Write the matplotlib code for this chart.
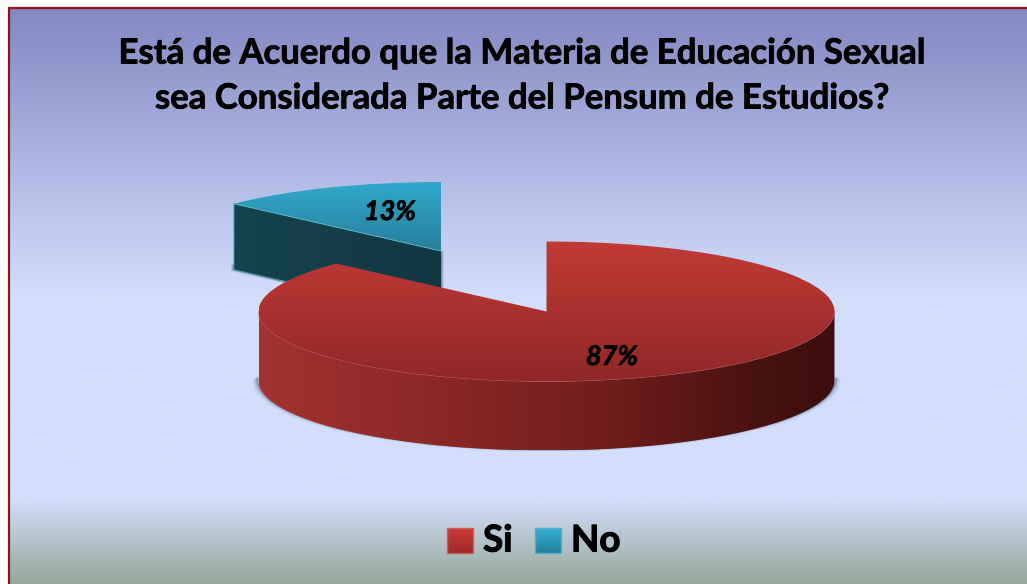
import matplotlib
matplotlib.use('Agg')
import matplotlib.pyplot as plt
import matplotlib.patheffects as pe
import numpy as np
from matplotlib.colors import LinearSegmentedColormap
from matplotlib.patches import PathPatch, Rectangle, Wedge
from matplotlib.path import Path
from matplotlib.transforms import Affine2D

plt.rcParams['font.family'] = ['Lato', 'DejaVu Sans']

title = 'Está de Acuerdo que la Materia de Educación Sexual\nsea Considerada Parte del Pensum de Estudios?'
categories = ['Si', 'No']
values = [87, 13]

W, H = 1027, 584


def gradient(ax, x0, x1, y0, y1, stops, clip=None, horizontal=False, z=1):
    # stops are (position 0-1, colour)
    cmap = LinearSegmentedColormap.from_list('g', stops)
    ramp = np.linspace(0, 1, 256)
    ramp = ramp[None, :] if horizontal else ramp[:, None]
    im = ax.imshow(ramp, cmap=cmap, vmin=0, vmax=1, extent=(x0, x1, y1, y0),
                   aspect='auto', zorder=z, interpolation='bilinear')
    if clip is not None:
        clip.set_facecolor('none')
        clip.set_edgecolor('none')
        ax.add_patch(clip)
        im.set_clip_path(clip)
    return im


def rim(cx, cy, rx, ry, deg):
    a = np.radians(deg)
    return cx + rx * np.cos(a), cy - ry * np.sin(a)


# makes the Lato bold a bit heavier, closer to the original
def heavy(w):
    return [pe.withStroke(linewidth=w, foreground='black')]


fig = plt.figure(figsize=(W / 100, H / 100), dpi=100, facecolor='white')
ax = fig.add_axes([0, 0, 1, 1])
ax.set_axis_off()

# background panel
gradient(ax, 8, W, 7, H, [(0, '#8388c2'), (0.5, '#d3defd'), (0.855, '#d3defd'), (1, '#95a899')], z=0)
ax.plot([8.5, 8.5, W], [H, 7.5, 7.5], color='#8f1418', lw=1.6, zorder=0.5, solid_joinstyle='miter')

# angles clockwise from 12 o'clock, taken from the values
shares = np.array(values) / sum(values) * 360
split = 90 - shares[0]   # math angle where Si ends / No starts
si_start, si_end = split, 90
no_start, no_end = 90, 90 + shares[1]

# ---- No slice (pulled out to the back left)
ncx, ncy, nrx, nry, nd = 441, 251, 284, 69, 66
lx, ly = rim(ncx, ncy, nrx, nry, no_end)

# soft shadow behind the blue block
for off, alpha in [(1, 0.28), (2, 0.18), (3, 0.10)]:
    ax.add_patch(plt.Polygon([(lx - off, ly + nd + off * 0.4), (lx - off, ly + nd - 6), (ncx + off, ncy),
                              (ncx + off, ncy + nd + 6), (ncx, ncy + nd + off)],
                             color='#30304a', alpha=alpha, lw=0, zorder=1))

side_no = plt.Polygon([(lx, ly), (ncx, ncy), (ncx, ncy + nd), (lx, ly + nd)], closed=True)
gradient(ax, lx, ncx, ly, ncy + nd, [(0, '#16434f'), (1, '#113743')], clip=side_no, horizontal=True, z=2)
ax.plot([lx, lx, ncx], [ly, ly + nd, ncy + nd], color='#3f9fb5', lw=0.7, zorder=2.1)

top_no = Wedge((0, 0), 1, no_start, no_end,
               transform=Affine2D().scale(nrx, -nry).translate(ncx, ncy) + ax.transData)
gradient(ax, lx, ncx, ncy - nry, ncy, [(0, '#30a9c9'), (1, '#287f9b')], clip=top_no, z=3)
ax.plot([lx, ncx], [ly, ncy], color='#58b6cd', lw=0.7, zorder=3.1)

# ---- Si slice
cx, cy, rx, ry, depth = 546.5, 311.5, 288, 70, 69
deg = np.linspace(180, 360, 200)
fx, fy = rim(cx, cy, rx, ry, deg)

for off, alpha in [(1, 0.30), (2, 0.20), (3.5, 0.10), (5, 0.05)]:
    ax.plot(fx + off * np.cos(np.radians(deg)), fy + depth + off * 0.35 - 2, color='#3a4560',
            alpha=alpha, lw=2, zorder=3.5)

verts = list(zip(fx, fy)) + list(zip(fx[::-1], fy[::-1] + depth))
side_si = PathPatch(Path(verts + [verts[0]]))
gradient(ax, cx - rx, cx + rx, cy, cy + ry + depth,
         [(0, '#a33230'), (0.3, '#8c2824'), (0.6, '#701e1a'), (0.85, '#4a1310'), (1, '#3a0f0c')],
         clip=side_si, horizontal=True, z=4)

top_si = Wedge((0, 0), 1, si_start, si_end,
               transform=Affine2D().scale(rx, -ry).translate(cx, cy) + ax.transData)
gradient(ax, cx - rx, cx + rx, cy - ry, cy + ry, [(0, '#c33a36'), (1, '#8f2827')], clip=top_si, z=5)
ax.plot(fx, fy, color='#b8403c', lw=0.6, alpha=0.6, zorder=5.1)

# ---- percent labels
for v, x, y in zip(values, [612, 390], [357, 212]):
    ax.text(x, y, f'{v}%', ha='center', va='center', fontsize=19.5, fontweight='bold',
            fontstyle='italic', color='black', zorder=6, path_effects=heavy(0.5))

ax.text(522.5, 76, title, ha='center', va='center', fontsize=25, fontweight='bold',
        color='black', linespacing=1.5, zorder=6, path_effects=heavy(0.6))

# ---- legend
legend_x = [447, 535]
legend_colors = [[(0, '#d03a38'), (1, '#9c2a2a')], [(0, '#33b0d2'), (1, '#26809f')]]
legend_edges = ['#c8605e', '#52b0cc']
text_x = [483, 571]
for name, x, cols, edge, tx in zip(categories, legend_x, legend_colors, legend_edges, text_x):
    gradient(ax, x, x + 26, 528, 553, cols, z=5)
    ax.add_patch(Rectangle((x, 528), 26, 25, fc='none', ec=edge, lw=1, zorder=5.5))
    ax.text(tx, 541, name, ha='left', va='center', fontsize=26.5, fontweight='bold', color='black',
            zorder=6, path_effects=heavy(0.8))

ax.set_xlim(0, W)
ax.set_ylim(H, 0)
fig.savefig('out.png', dpi=100, facecolor='white')
